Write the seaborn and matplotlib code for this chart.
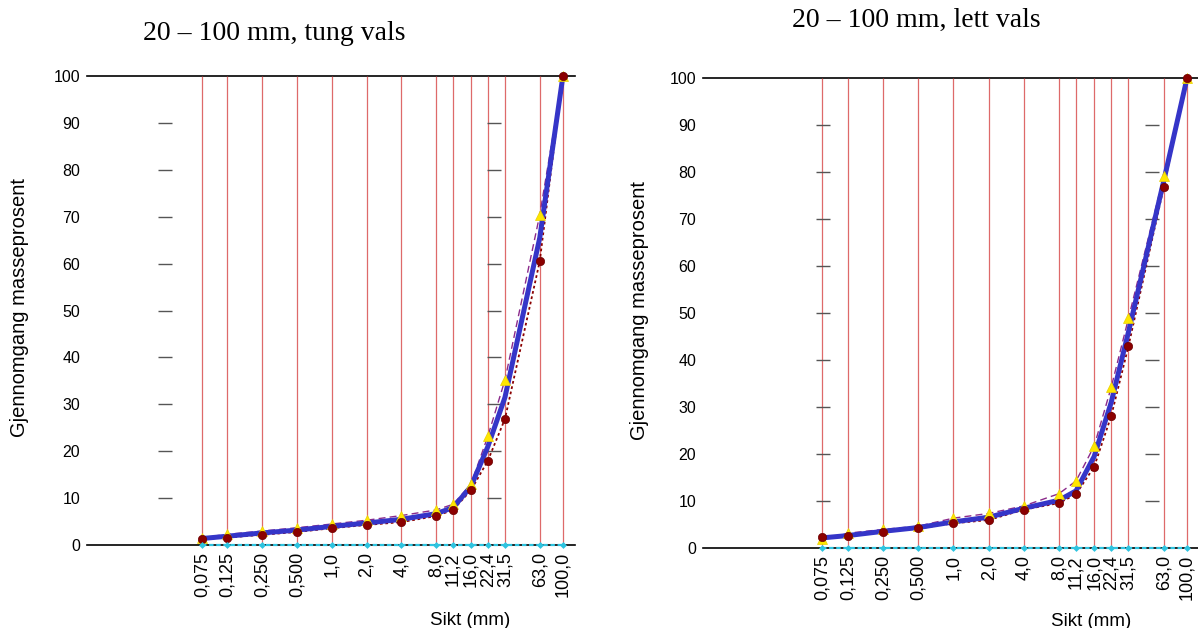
import matplotlib
matplotlib.use("Agg")
import matplotlib.pyplot as plt
import seaborn as sns
import pandas as pd

# Siktekurver 20-100 mm, tung og lett vals
sikt = [0.075, 0.125, 0.25, 0.5, 1.0, 2.0, 4.0, 8.0, 11.2, 16.0, 22.4, 31.5, 63.0, 100.0]
sikt_etiketter = ["0,075", "0,125", "0,250", "0,500", "1,0", "2,0", "4,0", "8,0",
                  "11,2", "16,0", "22,4", "31,5", "63,0", "100,0"]

# tung vals
tung_middel = [1.4, 1.9, 2.6, 3.2, 4.0, 4.7, 5.5, 6.7, 8.0, 12.5, 21.0, 31.5, 65.5, 100]
tung_min = [1.3, 1.6, 2.2, 2.8, 3.6, 4.3, 4.9, 6.2, 7.5, 11.7, 18.0, 26.9, 60.5, 100]
tung_maks = [1.6, 2.3, 3.0, 3.7, 4.5, 5.3, 6.3, 7.5, 8.7, 13.0, 23.2, 35.2, 70.4, 100]

# lett vals
lett_middel = [2.2, 2.7, 3.6, 4.4, 5.6, 6.6, 8.5, 10.2, 12.2, 19.5, 31.0, 46.0, 78.0, 100]
lett_min = [2.4, 2.6, 3.5, 4.2, 5.3, 6.0, 8.2, 9.6, 11.5, 17.3, 28.1, 43.0, 76.7, 100]
lett_maks = [1.9, 3.2, 4.0, 4.7, 6.4, 7.4, 9.0, 11.6, 14.3, 21.7, 34.2, 48.9, 79.1, 100]

nullinje = [0] * len(sikt)
strek_y = [10, 20, 30, 40, 50, 60, 70, 80, 90]

sns.set_style("white")
plt.rcParams['font.family'] = ['Liberation Sans', 'DejaVu Sans']
plt.rcParams['text.color'] = 'black'
plt.rcParams['axes.labelcolor'] = 'black'
plt.rcParams['xtick.color'] = 'black'
plt.rcParams['ytick.color'] = 'black'

fig = plt.figure(figsize=(11.98, 6.28), dpi=100)
ax1 = fig.add_axes([0.0726, 0.132, 0.4073, 0.747])
ax2 = fig.add_axes([0.587, 0.127, 0.415, 0.749])


def tegn(ax, middel, minst, maks, xlim, strek_x):
    ax.set_xscale('log')
    # vertikale siktelinjer
    ax.vlines(sikt, 0, 100, color='#D64545', lw=0.9, alpha=0.8, zorder=1)
    # korte streker
    for sx in strek_x:
        ax.plot([sx] * len(strek_y), strek_y, ls='none', marker='_', ms=9.5,
                mew=1.0, color='#555555', zorder=1)

    df = pd.DataFrame({'sikt': sikt, 'middel': middel, 'min': minst, 'maks': maks,
                       'null': nullinje})
    sns.lineplot(data=df, x='sikt', y='maks', ax=ax, color='#8B2A8B', lw=1.0,
                 linestyle=(0, (5, 3)), zorder=2)
    sns.lineplot(data=df, x='sikt', y='min', ax=ax, color='#8B0000', lw=1.3,
                 linestyle=(0, (1.5, 1.5)), zorder=2)
    sns.lineplot(data=df, x='sikt', y='middel', ax=ax, color='#3535C8', lw=3.6, zorder=3)
    sns.lineplot(data=df, x='sikt', y='maks', ax=ax, color='#FFE600', lw=0,
                 marker='^', ms=7.5, mec='#E8D000', mew=0.5, zorder=4)
    sns.lineplot(data=df, x='sikt', y='min', ax=ax, color='#8B0000', lw=0,
                 marker='o', ms=6, mec='#6B0000', mew=0.5, zorder=5)
    sns.lineplot(data=df, x='sikt', y='null', ax=ax, color='#2EC4E0', lw=1.6,
                 linestyle=(0, (2, 1.2)), marker='D', ms=3.5, mew=0, zorder=6)
    for line in ax.lines:
        line.set_clip_on(False)

    ax.set_xlim(*xlim)
    ax.set_ylim(0, 100)
    ax.set_xticks(sikt)
    ax.set_xticklabels(sikt_etiketter, rotation=90, fontsize=13)
    ax.minorticks_off()
    ax.set_yticks(range(0, 101, 10))
    ax.set_yticklabels([str(v) for v in range(0, 101, 10)], fontsize=11.5)
    ax.tick_params(length=0, pad=5)
    for side in ['left', 'right']:
        ax.spines[side].set_visible(False)
    for side in ['top', 'bottom']:
        ax.spines[side].set_color('black')
        ax.spines[side].set_linewidth(1.2)
        ax.spines[side].set_zorder(0.5)
    ax.set_xlabel('Sikt (mm)', fontsize=13.5)
    ax.set_ylabel('Gjennomgang masseprosent', fontsize=14.5)


tegn(ax1, tung_middel, tung_min, tung_maks, (0.0076, 127), [0.036, 25.3])
tegn(ax2, lett_middel, lett_min, lett_maks, (0.0072, 130), [0.077, 50.4])

ax1.xaxis.set_label_coords(0.785, -0.142)
ax1.yaxis.set_label_coords(-0.118, 0.507)
ax2.xaxis.set_label_coords(0.78, -0.138)
ax2.yaxis.set_label_coords(-0.11, 0.506)

fig.text(274 / 1198, 1 - 33 / 628, '20 – 100 mm, tung vals', ha='center', va='center',
         fontsize=20, family='Liberation Serif')
fig.text(916 / 1198, 1 - 20 / 628, '20 – 100 mm, lett vals', ha='center', va='center',
         fontsize=20, family='Liberation Serif')

fig.savefig('out.png', dpi=100)
